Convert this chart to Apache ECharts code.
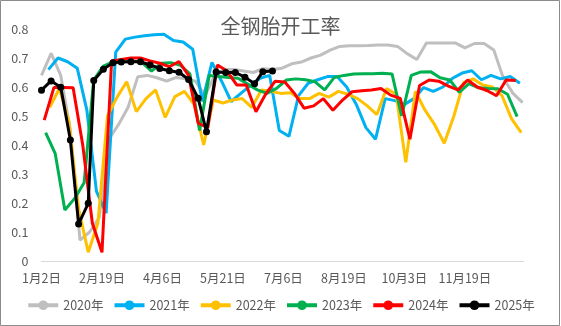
<!DOCTYPE html>
<html><head><meta charset="utf-8">
<script src="https://cdn.jsdelivr.net/npm/echarts@6/dist/echarts.min.js"></script>
<style>html,body{margin:0;padding:0;background:#fff}#c{width:561px;height:326px}</style>
</head><body><div id="c"></div>
<script>
// x tick labels (one every 44 days on the date axis)
const tickLabels = ['1月2日','2月19日','4月6日','5月21日','7月6日','8月19日','10月3日','11月19日'];
const seriesNames = ['2020年','2021年','2022年','2023年','2024年','2025年'];
// first observation day (days after Jan 2) of each weekly series
const start2020 = 0, start2021 = 5, start2022 = 6, start2023 = 3, start2024 = 2;
const v2020 = [0.64,0.716,0.64,0.45,0.072,0.10,0.15,0.42,0.47,0.53,0.635,0.64,0.632,0.62,0.633,0.628,0.62,0.57,0.64,0.66,0.66,0.655,0.65,0.663,0.66,0.665,0.68,0.686,0.70,0.71,0.727,0.74,0.742,0.742,0.743,0.745,0.745,0.74,0.715,0.695,0.752,0.752,0.752,0.752,0.735,0.75,0.75,0.728,0.63,0.578,0.546];
const v2021 = [0.66,0.70,0.687,0.665,0.52,0.24,0.165,0.72,0.765,0.772,0.777,0.78,0.782,0.76,0.755,0.73,0.55,0.685,0.62,0.55,0.578,0.605,0.63,0.64,0.45,0.43,0.57,0.613,0.625,0.636,0.636,0.60,0.54,0.46,0.42,0.56,0.553,0.54,0.56,0.598,0.585,0.60,0.63,0.648,0.656,0.625,0.64,0.628,0.636,0.613];
const v2022 = [0.53,0.595,0.48,0.18,0.03,0.13,0.50,0.565,0.618,0.515,0.56,0.59,0.495,0.567,0.585,0.54,0.40,0.555,0.545,0.555,0.56,0.53,0.59,0.585,0.578,0.58,0.56,0.56,0.578,0.565,0.585,0.575,0.56,0.535,0.505,0.595,0.575,0.34,0.585,0.52,0.47,0.406,0.50,0.615,0.628,0.607,0.60,0.57,0.49,0.443];
const v2023 = [0.443,0.37,0.176,0.215,0.27,0.625,0.672,0.687,0.69,0.69,0.685,0.655,0.682,0.684,0.675,0.645,0.45,0.64,0.636,0.633,0.63,0.61,0.59,0.578,0.595,0.624,0.628,0.625,0.618,0.59,0.633,0.64,0.645,0.646,0.646,0.647,0.645,0.50,0.64,0.652,0.653,0.632,0.624,0.582,0.612,0.597,0.595,0.594,0.575,0.498];
const v2024 = [0.486,0.598,0.598,0.597,0.40,0.13,0.03,0.69,0.695,0.70,0.70,0.69,0.682,0.67,0.688,0.64,0.475,0.46,0.676,0.655,0.607,0.607,0.515,0.575,0.62,0.617,0.578,0.527,0.535,0.56,0.52,0.555,0.584,0.587,0.59,0.595,0.572,0.561,0.42,0.605,0.624,0.62,0.603,0.59,0.624,0.60,0.588,0.57,0.624,0.622];
const days2025 = [0,7,14,21,27,34,38,45,52,58,65,72,79,86,93,100,107,114,120,127,134,141,148,155,161,168];
const v2025 = [0.589,0.621,0.599,0.417,0.128,0.199,0.622,0.661,0.684,0.686,0.687,0.687,0.676,0.664,0.656,0.651,0.626,0.561,0.446,0.652,0.65,0.65,0.634,0.611,0.653,0.655];
const colors = ['#BFBFBF','#00B0F0','#FFC000','#00B050','#FF0000','#000000'];

function weekly(start, vals){ return vals.map((v,i)=>[start + 7*i, v]); }
const dataSets = [
  weekly(start2020, v2020), weekly(start2021, v2021), weekly(start2022, v2022),
  weekly(start2023, v2023), weekly(start2024, v2024),
  days2025.map((d,i)=>[d, v2025[i]])
];
const STEP = 44;
const font = '"Noto Sans CJK SC", "Noto Sans", sans-serif';
const chart = echarts.init(document.getElementById('c'), null, {renderer:'canvas'});
chart.setOption({
  animation: false,
  backgroundColor: '#fff',
  title: { text: '全钢胎开工率', left: 'center', top: 11,
    textStyle: { fontSize: 20, fontWeight: 'normal', color: '#595959', fontFamily: font } },
  grid: { left: 41.5, right: 37, top: 29, bottom: 65, containLabel: false },
  graphic: [{ type: 'rect', shape: { x: 0.5, y: 0.5, width: 559, height: 325 },
    style: { fill: 'none', stroke: '#8c8c8c', lineWidth: 1 }, silent: true, z: -1 }],
  legend: {
    data: seriesNames, top: 294, left: 'center', itemWidth: 30, itemHeight: 12, itemGap: 9,
    textStyle: { color: '#595959', fontSize: 12.5, fontFamily: font },
    lineStyle: { width: 4 }
  },
  xAxis: {
    type: 'value', min: 0, max: 351, interval: STEP,
    axisLine: { show: true, lineStyle: { color: '#d9d9d9', width: 1 } },
    axisTick: { show: false }, splitLine: { show: false },
    axisLabel: { color: '#595959', fontSize: 12.5, fontFamily: font, margin: 11,
      formatter: v => (v % STEP === 0 ? (tickLabels[v / STEP] || '') : '') }
  },
  yAxis: {
    type: 'value', min: 0, max: 0.8, interval: 0.1,
    axisLine: { show: false }, axisTick: { show: false }, splitLine: { show: false },
    axisLabel: { color: '#595959', fontSize: 12.5, fontFamily: font, margin: 13 }
  },
  series: seriesNames.map((name, i) => ({
    name, type: 'line', data: dataSets[i],
    symbol: i === 5 ? 'circle' : 'none', symbolSize: 7, showSymbol: i === 5,
    lineStyle: { width: 3, color: colors[i] }, itemStyle: { color: colors[i] },
    z: 2 + i
  }))
});
</script></body></html>
